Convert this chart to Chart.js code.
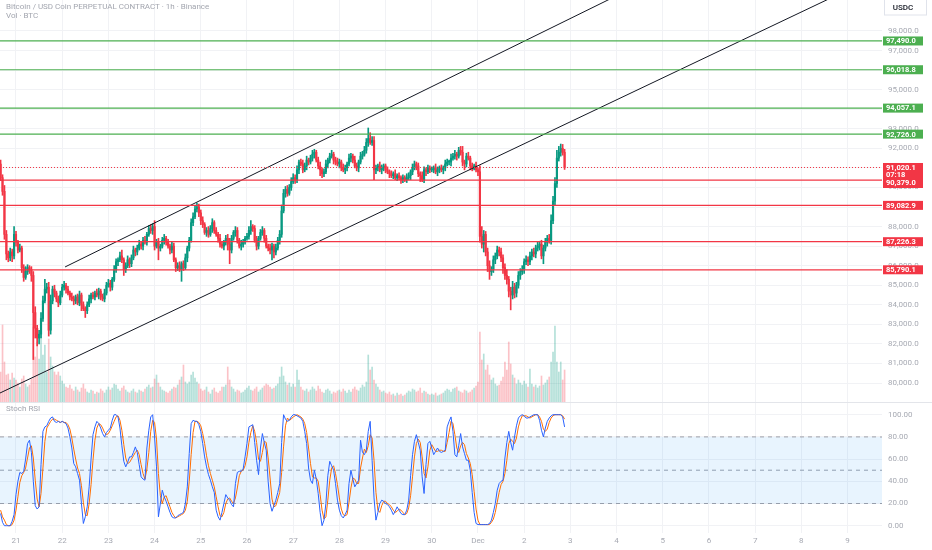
<!DOCTYPE html>
<html>
<head>
<meta charset="utf-8">
<title>BTCUSDC 1h</title>
<script src="https://cdn.jsdelivr.net/npm/chart.js@4/dist/chart.umd.min.js"></script>
<style>
html, body { margin: 0; padding: 0; background: #fff; overflow: hidden; }
#wrap { position: relative; width: 932px; height: 550px; font-family: Roboto, "Noto Sans", sans-serif; }
.pane { position: absolute; left: 0; width: 932px; }
#pricePane { top: 0; height: 403px; }
#stochPane { top: 403px; height: 147px; }
.legend { position: absolute; left: 6px; font-size: 8px; line-height: 8px; color: #a3a6af; white-space: nowrap; }
</style>
</head>
<body>
<div id="wrap">
  <div class="pane" id="pricePane"><canvas id="price"></canvas></div>
  <div class="pane" id="stochPane"><canvas id="stoch"></canvas></div>
  <div class="legend" style="top:3px">Bitcoin / USD Coin PERPETUAL CONTRACT · 1h · Binance</div>
  <div class="legend" style="top:12px">Vol · BTC</div>
  <div class="legend" style="top:405px">Stoch RSI</div>
</div>
<script>
/*jshint esversion: 6 */
"use strict";

// hour index 0 = 21 Nov 00:00, the first candle is 20 Nov 16:00
const firstHour = -8;
const firstOpen = 91200;

const closes = [
    90500, 89800, 87600, 86600, 86400, 86700, 86500, 87600,
    // 21
    87200, 86800, 86900, 85900, 85400, 85700, 85900, 85800, 85500, 83600, 82800, 82300,
    82500, 83300, 84200, 84800, 84900, 82700, 84200, 84800, 84600, 84300, 84100, 84500,
    // 22
    84900, 85000, 84800, 84600, 84400, 84300, 84200, 84400, 84100, 84500, 84000, 83800,
    83700, 84000, 84300, 84500, 84400, 84600, 84500, 84700, 84400, 84300, 84600, 85000,
    // 23
    85100, 84900, 85300, 85800, 86200, 86300, 86500, 86300, 85800, 86000, 86300, 86100,
    86400, 86800, 86700, 86900, 87100, 87000, 87300, 87200, 87600, 87900, 87800, 88000,
    // 24
    87000, 87200, 86900, 87000, 87300, 87400, 87200, 87000, 86800, 87000, 86300, 85900,
    86000, 85800, 86100, 85900, 86400, 86900, 87300, 88200, 88500, 88900, 89000, 88700,
    // 25
    88300, 88100, 87700, 87800, 87600, 87900, 88200, 87800, 87600, 87400, 87100, 87000,
    87200, 87400, 87100, 86800, 87400, 87700, 87800, 87300, 87000, 87100, 87200, 87400,
    // 26
    87500, 87800, 88000, 87900, 87300, 87000, 87400, 87700, 87800, 87400, 87000, 86900,
    86800, 87000, 86700, 86900, 87300, 87600, 88800, 89700, 89900, 89700, 90000, 90300,
    // 27
    90500, 90400, 90900, 91300, 91200, 90900, 91100, 91400, 91300, 91500, 91700, 91800,
    91400, 91100, 90900, 90700, 90800, 91200, 91400, 91600, 91700, 91400, 91300, 91200,
    // 28
    91300, 91000, 90900, 91000, 91200, 91500, 91600, 91400, 91100, 91000, 91300, 91600,
    91700, 91900, 92300, 92500, 92300, 92400, 90900, 91000, 91100, 90900, 91000, 91100,
    // 29
    90900, 90800, 90700, 90600, 90700, 90500, 90600, 90500, 90400, 90500, 90400, 90500,
    90600, 90800, 91000, 91200, 91100, 90700, 90600, 90400, 90900, 90800, 91000, 90900,
    // 30
    90900, 91000, 90800, 90900, 91000, 90900, 91000, 91200, 91300, 91300, 91500, 91600,
    91700, 91600, 91900, 91800, 91300, 91200, 91600, 91500, 91100, 91000, 91100, 90900,
    // Dec 1
    90800, 87500, 87100, 87600, 86700, 86000, 85700, 85800, 86300, 86500, 86800, 86700,
    86400, 85900, 85500, 85300, 84700, 84500, 84900, 84600, 85000, 85500, 85700, 85800,
    // Dec 2
    86200, 86300, 86200, 86500, 86700, 86600, 86900, 87000, 87100, 86500, 86900, 87200,
    87400, 87300, 88300, 89300, 90200, 91500, 91800, 92000, 91800, 91020.1
];

const upperWick = [
    200, 150, 300, 200, 150, 200, 150, 400,
    150, 100, 200, 100, 150, 250, 150, 100, 150, 200, 300, 150, 200, 300, 250, 500, 200, 250, 300, 150, 200, 100, 150, 200,
    150, 200, 100, 150, 100, 200, 150, 100, 150, 200, 100, 150, 100, 150, 200, 100, 150, 100, 200, 150, 100, 150, 200, 150,
    200, 150, 100, 200, 150, 100, 200, 300, 100, 150, 200, 100, 150, 200, 100, 150, 200, 100, 150, 200, 100, 150, 200, 150,
    300, 150, 200, 100, 150, 200, 100, 150, 100, 200, 150, 100, 150, 200, 100, 150, 200, 100, 150, 200, 200, 150, 200, 150,
    150, 200, 100, 150, 200, 150, 200, 100, 150, 100, 200, 150, 100, 150, 200, 300, 150, 100, 200, 150, 100, 200, 150, 100,
    150, 200, 300, 100, 150, 200, 100, 150, 200, 100, 150, 100, 200, 150, 100, 200, 150, 200, 300, 200, 150, 200, 150, 200,
    200, 150, 200, 100, 150, 200, 150, 200, 100, 150, 200, 150, 100, 150, 200, 100, 150, 200, 100, 150, 200, 100, 150, 200,
    150, 100, 200, 150, 100, 200, 150, 100, 200, 150, 100, 200, 150, 200, 200, 540, 300, 200, 200, 150, 100, 200, 150, 100,
    100, 150, 100, 150, 100, 200, 100, 150, 100, 150, 100, 200, 150, 100, 200, 150, 100, 150, 100, 200, 150, 100, 150, 100,
    150, 100, 200, 150, 100, 150, 100, 200, 150, 100, 200, 150, 200, 100, 150, 200, 300, 100, 150, 200, 100, 150, 100, 200,
    100, 300, 500, 200, 150, 200, 250, 150, 200, 150, 200, 150, 200, 150, 200, 300, 150, 200, 300, 200, 150, 200, 150, 200,
    150, 200, 150, 200, 150, 200, 150, 200, 150, 200, 150, 200, 150, 200, 300, 250, 300, 400, 300, 220, 200, 150
];

const lowerWick = [
    150, 200, 250, 300, 200, 150, 300, 150,
    200, 150, 100, 250, 200, 100, 150, 200, 300, 2400, 500, 400, 300, 200, 150, 100, 200, 300, 200, 150, 200, 150, 200, 100,
    100, 150, 200, 100, 150, 100, 200, 150, 100, 150, 300, 100, 350, 150, 100, 200, 100, 150, 100, 200, 150, 100, 150, 100,
    100, 200, 150, 100, 150, 200, 100, 150, 300, 150, 100, 200, 150, 100, 200, 150, 100, 150, 200, 100, 150, 100, 150, 200,
    200, 100, 600, 150, 100, 200, 150, 100, 200, 150, 100, 200, 150, 100, 600, 150, 100, 200, 150, 100, 150, 100, 150, 200,
    200, 150, 100, 200, 150, 100, 200, 150, 100, 200, 150, 100, 200, 150, 300, 700, 150, 100, 200, 150, 100, 200, 150, 100,
    100, 150, 200, 150, 100, 200, 150, 100, 150, 200, 100, 150, 200, 500, 300, 150, 100, 200, 150, 100, 200, 150, 100, 150,
    100, 200, 150, 200, 100, 150, 100, 200, 150, 100, 150, 200, 100, 150, 300, 200, 150, 100, 200, 150, 100, 200, 150, 100,
    200, 150, 100, 200, 150, 100, 200, 150, 100, 150, 200, 100, 150, 100, 150, 200, 100, 150, 500, 200, 150, 100, 200, 150,
    150, 100, 200, 100, 150, 100, 150, 100, 200, 150, 100, 150, 100, 200, 150, 100, 200, 150, 300, 100, 150, 200, 100, 150,
    100, 150, 100, 200, 150, 100, 200, 150, 100, 150, 200, 100, 150, 200, 100, 150, 200, 300, 150, 100, 200, 150, 100, 100,
    200, 300, 200, 400, 200, 300, 400, 200, 150, 200, 150, 200, 200, 300, 200, 250, 300, 760, 200, 250, 200, 150, 200, 150,
    200, 150, 200, 150, 200, 150, 200, 150, 200, 150, 400, 150, 200, 150, 200, 150, 200, 200, 150, 200, 150, 100
];

// BTC per hour
const volumes = [
    6000, 15400, 8000, 5400, 5600, 4400, 5800, 4800,
    4400, 3800, 3000, 4600, 5200, 3600, 3000, 3400, 4600, 15000, 9000, 12000, 8600, 14000, 9400, 11400, 6000, 12600, 9000, 7200, 6000, 5400, 6000, 5200,
    4200, 3600, 3000, 2800, 3400, 2600, 2200, 3000, 2400, 2000, 2800, 3600, 2600, 2000, 1800, 2400, 2200, 1600, 2000, 1800, 2600, 2200, 1800, 2400,
    3000, 2400, 2800, 3600, 3400, 2600, 2200, 2800, 3200, 2400, 2000, 1800, 2200, 2600, 2000, 1800, 2400, 2200, 2000, 2600, 3000, 3400, 2800, 3000,
    4600, 5400, 3800, 3000, 2400, 2200, 2000, 1800, 2200, 2600, 3000, 2800, 3400, 4400, 5000, 7400, 4000, 3600, 4000, 5400, 6000, 4800, 4000, 3600,
    2600, 2200, 2400, 3000, 2000, 1600, 2400, 2800, 2000, 1800, 2200, 3000, 3000, 3400, 7000, 4400, 3000, 2600, 2000, 2400, 2200, 1800, 2000, 2400,
    2800, 3200, 2400, 2200, 2600, 3000, 2000, 2400, 2800, 3200, 3600, 3400, 3000, 2600, 2800, 3200, 3600, 5000, 7000, 5200, 4000, 3400, 3800, 3000,
    3600, 3000, 6400, 4400, 3000, 2400, 2200, 2600, 2000, 2400, 3000, 2600, 2200, 3200, 2600, 2000, 1800, 2400, 2600, 2200, 1600, 2000, 1800, 2200,
    2400, 2000, 2600, 2200, 1800, 2400, 2000, 2600, 3000, 2400, 2200, 2800, 3400, 3000, 4000, 9400, 6400, 7000, 4400, 3600, 3000, 2400, 2000, 2200,
    1800, 1600, 2000, 1400, 1600, 1200, 1800, 1400, 1600, 1200, 1400, 1800, 2200, 2000, 2600, 2400, 2000, 2200, 2800, 1800, 2200, 2000, 1600, 1400,
    1600, 1400, 1800, 1200, 1400, 1600, 1800, 2200, 2600, 2400, 2000, 2600, 2800, 3000, 2200, 2000, 1800, 2400, 2200, 1800, 2000, 2400, 2800, 3200,
    4000, 14000, 8400, 9600, 6400, 7400, 5400, 4400, 4800, 3600, 3200, 3400, 4200, 5000, 8000, 6400, 12000, 7600, 5400, 4800, 3600, 4400, 3800, 3400,
    4200, 3600, 3000, 6600, 3600, 3000, 3400, 2800, 3200, 5200, 3400, 3800, 4400, 5000, 8000, 10000, 15200, 8000, 6000, 8000, 4400, 6400
];

const stochK = [
    11, 3, 0, 0, 0, 0, 4, 10,
    28, 40, 48, 47, 49, 60, 74, 77, 66, 40, 18, 15, 17, 55, 85, 89, 90, 94, 97, 98, 94, 93, 94, 93,
    94, 93, 92, 88, 80, 70, 56, 53, 47, 41, 20, 2, 8, 17, 35, 60, 82, 89, 94, 92, 88, 83, 80, 84,
    86, 88, 95, 100, 100, 98, 88, 72, 58, 53, 57, 62, 62, 66, 71, 66, 55, 44, 42, 41, 70, 86, 98, 100,
    80, 53, 8, 20, 32, 26, 22, 17, 12, 8, 7, 7, 9, 10, 11, 12, 20, 35, 65, 92, 95, 94, 94, 91,
    85, 74, 62, 53, 46, 41, 35, 30, 14, 8, 5, 12, 20, 28, 25, 23, 19, 17, 38, 48, 49, 49, 51, 62,
    74, 89, 90, 91, 75, 59, 46, 70, 83, 75, 68, 40, 20, 13, 18, 23, 30, 38, 75, 100, 96, 94, 95, 98,
    100, 100, 99, 98, 97, 94, 85, 74, 52, 41, 38, 50, 42, 29, 12, 0, 5, 20, 45, 58, 54, 50, 38, 23,
    14, 9, 7, 10, 14, 38, 50, 42, 35, 38, 41, 77, 66, 64, 68, 85, 94, 59, 25, 5, 12, 20, 23, 22,
    20, 19, 17, 14, 10, 13, 17, 14, 11, 10, 10, 14, 23, 45, 64, 76, 82, 75, 68, 44, 29, 55, 74, 76,
    70, 64, 67, 70, 67, 66, 67, 68, 89, 94, 98, 85, 64, 62, 72, 83, 71, 65, 59, 59, 50, 30, 12, 2,
    1, 1, 1, 1, 1, 1, 2, 5, 12, 20, 32, 38, 40, 41, 61, 75, 85, 75, 68, 80, 90, 97, 99, 100,
    99, 97, 97, 98, 99, 100, 100, 100, 95, 86, 80, 88, 94, 97, 99, 100, 100, 100, 100, 100, 98, 89
];

const stochD = [
    14, 8, 5, 1, 0, 0, 1, 5,
    14, 26, 39, 45, 48, 52, 61, 70, 72, 61, 41, 24, 17, 29, 52, 76, 88, 91, 94, 96, 96, 95, 94, 93,
    94, 93, 93, 91, 87, 79, 69, 60, 52, 47, 36, 21, 10, 9, 20, 37, 59, 77, 88, 92, 91, 88, 84, 82,
    83, 86, 90, 94, 98, 99, 95, 86, 73, 61, 56, 57, 60, 63, 66, 68, 64, 55, 47, 42, 51, 66, 85, 95,
    93, 78, 47, 27, 20, 26, 27, 22, 17, 12, 9, 7, 8, 9, 10, 11, 14, 22, 40, 64, 84, 94, 94, 93,
    90, 83, 74, 63, 54, 47, 41, 35, 26, 17, 9, 8, 12, 20, 24, 25, 22, 20, 25, 34, 45, 49, 50, 54,
    62, 75, 84, 90, 85, 75, 60, 58, 66, 76, 75, 61, 43, 24, 17, 18, 24, 30, 48, 71, 90, 97, 95, 96,
    98, 99, 100, 99, 98, 96, 92, 84, 70, 56, 44, 43, 43, 40, 28, 14, 6, 8, 23, 41, 52, 54, 47, 37,
    25, 15, 10, 9, 10, 21, 34, 43, 42, 38, 38, 52, 61, 69, 66, 72, 82, 79, 59, 30, 14, 12, 18, 22,
    22, 20, 19, 17, 14, 12, 13, 15, 14, 12, 10, 11, 16, 27, 44, 62, 74, 78, 75, 62, 47, 43, 53, 68,
    73, 70, 67, 67, 68, 68, 67, 67, 75, 84, 94, 92, 82, 70, 66, 72, 75, 73, 65, 61, 56, 46, 31, 15,
    5, 1, 1, 1, 1, 1, 1, 3, 6, 12, 21, 30, 37, 40, 47, 59, 74, 78, 76, 74, 79, 89, 95, 99,
    99, 99, 98, 97, 98, 99, 100, 100, 98, 94, 87, 85, 87, 93, 97, 99, 100, 100, 100, 100, 99, 96
];

const dayTicks = [0, 24, 48, 72, 96, 120, 144, 168, 192, 216, 240, 264, 288, 312, 336, 360, 384, 408, 432];
const dayLabels = ["21", "22", "23", "24", "25", "26", "27", "28", "29", "30", "Dec", "2", "3", "4", "5", "6", "7", "8", "9"];
const priceTicks = [80000, 81000, 82000, 83000, 84000, 85000, 86000, 87000, 88000, 89000,
                    90000, 91000, 92000, 93000, 94000, 95000, 96000, 97000, 98000];
const stochTicks = [0, 20, 40, 60, 80, 100];
const stochBands = [80, 50, 20];

const greenLevels = [97490.0, 96018.8, 94057.1, 92726.0];
const redLevels = [90379.0, 89082.9, 87226.3, 85790.1];
const lastPrice = 91020.1;
const countdown = "07:18";
// channel drawn as [hour, price] anchor pairs
const channelUpper = [[25.5, 85935], [320, 100189]];
const channelLower = [[-8.3, 79490], [430, 100002]];

// view / look
const X_MIN = -8.31, X_MAX = 449.9;
const P_MIN = 79029, P_MAX = 99585;
const VOL_MAX = 80400;
const S_MIN = -6.58, S_MAX = 110.54;
const UP = "#089981", DOWN = "#f23645", LEVEL_GREEN = "#4caf50";
const GRID = "#f1f2f5", AXIS_TEXT = "#a7aab3";
const FONT = "Roboto, 'Noto Sans', sans-serif";
const LABEL_X = 888;

const candles = closes.map((c, k) => {
    const o = k === 0 ? firstOpen : closes[k - 1];
    return {
        x: firstHour + k, o: o, c: c,
        h: Math.max(o, c) + (upperWick[k] || 0),
        l: Math.min(o, c) - (lowerWick[k] || 0)
    };
});
const candleColors = candles.map(d => d.c >= d.o ? UP : DOWN);
const volColors = candles.map(d => d.c >= d.o ? "rgba(8,153,129,0.3)" : "rgba(242,54,69,0.3)");

const fmt = (v, digits) => v.toLocaleString("en-US", {minimumFractionDigits: digits, maximumFractionDigits: digits});

function flatLine(value, color, extra) {
    return Object.assign({
        type: "line",
        data: [{x: X_MIN, y: value}, {x: X_MAX, y: value}],
        borderColor: color, borderWidth: 1.2,
        pointRadius: 0, fill: false, order: 0
    }, extra || {});
}

function trendLine(points) {
    return {
        type: "line",
        data: points.map(p => ({x: p[0], y: p[1]})),
        borderColor: "#131722", borderWidth: 1,
        pointRadius: 0, fill: false, order: 0
    };
}

const dayGrid = {
    type: "linear", min: X_MIN, max: X_MAX, offset: false,
    afterBuildTicks: s => { s.ticks = dayTicks.map(v => ({value: v})); },
    ticks: {display: false},
    grid: {color: GRID, drawTicks: false, offset: false},
    border: {display: false}
};

const priceAxis = {
    id: "priceAxis",
    afterDraw(chart) {
        const ctx = chart.ctx, y = chart.scales.y, area = chart.chartArea;
        ctx.save();
        ctx.font = "8px " + FONT;
        ctx.textBaseline = "middle";
        ctx.textAlign = "left";
        ctx.fillStyle = AXIS_TEXT;
        priceTicks.forEach(v => ctx.fillText(fmt(v, 1), LABEL_X, y.getPixelForValue(v)));

        ctx.font = "bold 7.5px " + FONT;
        const box = (v, color) => {
            const py = y.getPixelForValue(v);
            ctx.fillStyle = color;
            ctx.fillRect(883, py - 4.5, 40, 9);
            ctx.fillStyle = "#fff";
            ctx.fillText(fmt(v, 1), 886, py + 0.5);
        };
        greenLevels.forEach(v => box(v, LEVEL_GREEN));
        redLevels.slice(1).forEach(v => box(v, DOWN));

        // last price, countdown and the 90,379.0 level share one tag
        const top = y.getPixelForValue(lastPrice) - 4.5;
        ctx.fillStyle = DOWN;
        ctx.fillRect(883, top, 40, 25);
        ctx.fillStyle = "#fff";
        ctx.fillText(fmt(lastPrice, 1), 886, top + 5);
        ctx.fillText(countdown, 886, top + 12.5);
        ctx.fillText(fmt(redLevels[0], 1), 886, top + 20.5);

        // currency tag
        ctx.strokeStyle = "#e0e3eb";
        ctx.lineWidth = 1;
        ctx.strokeRect(884.5, -1, 42, 16);
        ctx.fillStyle = "#131722";
        ctx.font = "500 8px " + FONT;
        ctx.textAlign = "center";
        ctx.fillText("USDC", 903, 8);

        // pane separator
        ctx.strokeStyle = "#e3e5ea";
        ctx.beginPath();
        ctx.moveTo(0, area.bottom + 0.5);
        ctx.lineTo(chart.width, area.bottom + 0.5);
        ctx.stroke();
        ctx.restore();
    }
};

const stochAxis = {
    id: "stochAxis",
    afterDraw(chart) {
        const ctx = chart.ctx, y = chart.scales.y, x = chart.scales.x;
        ctx.save();
        ctx.font = "8px " + FONT;
        ctx.fillStyle = AXIS_TEXT;
        ctx.textBaseline = "middle";
        ctx.textAlign = "left";
        stochTicks.forEach(v => ctx.fillText(fmt(v, 2), LABEL_X, y.getPixelForValue(v)));
        ctx.textAlign = "center";
        dayTicks.forEach((v, k) => ctx.fillText(dayLabels[k], x.getPixelForValue(v), 138));
        ctx.restore();
    }
};

new Chart(document.getElementById("price"), {
    type: "bar",
    data: {
        datasets: [
            ...greenLevels.map(v => flatLine(v, LEVEL_GREEN)),
            ...redLevels.map(v => flatLine(v, DOWN)),
            flatLine(lastPrice, DOWN, {borderWidth: 1, borderDash: [1, 2]}),
            trendLine(channelUpper),
            trendLine(channelLower),
            {
                type: "bar",
                data: candles.map(d => ({x: d.x, y: [Math.min(d.o, d.c), Math.max(d.o, d.c)]})),
                backgroundColor: candleColors,
                barThickness: 1.5, minBarLength: 1, grouped: false, order: 1
            },
            {
                type: "bar",
                data: candles.map(d => ({x: d.x, y: [d.l, d.h]})),
                backgroundColor: candleColors,
                barThickness: 1, grouped: false, order: 2
            },
            {
                type: "bar", yAxisID: "yv",
                data: candles.map((d, k) => ({x: d.x, y: volumes[k]})),
                backgroundColor: volColors,
                barThickness: 1, grouped: false, order: 10
            }
        ]
    },
    options: {
        responsive: true, maintainAspectRatio: false,
        animation: false, events: [],
        layout: {padding: {top: 0, left: 0, right: 50, bottom: 1}},
        plugins: {legend: {display: false}, tooltip: {enabled: false}},
        scales: {
            x: dayGrid,
            y: {
                position: "right", min: P_MIN, max: P_MAX,
                afterBuildTicks: s => { s.ticks = priceTicks.map(v => ({value: v})); },
                ticks: {display: false},
                grid: {color: GRID, drawTicks: false},
                border: {display: false}
            },
            yv: {display: false, min: 0, max: VOL_MAX}
        }
    },
    plugins: [priceAxis]
});

new Chart(document.getElementById("stoch"), {
    type: "line",
    data: {
        datasets: [
            ...stochBands.map((v, k) => ({
                data: [{x: X_MIN, y: v}, {x: X_MAX, y: v}],
                borderColor: "#9da0a9", borderWidth: 1, borderDash: [4, 4],
                pointRadius: 0, order: 5,
                fill: k === 0 ? {value: stochBands[2]} : false,
                backgroundColor: "rgba(33,150,243,0.1)"
            })),
            {
                data: stochK.map((v, k) => ({x: firstHour + k, y: v})),
                borderColor: "#2962ff", borderWidth: 1, pointRadius: 0, fill: false, order: 1
            },
            {
                data: stochD.map((v, k) => ({x: firstHour + k, y: v})),
                borderColor: "#ff6d00", borderWidth: 1, pointRadius: 0, fill: false, order: 2
            }
        ]
    },
    options: {
        responsive: true, maintainAspectRatio: false,
        animation: false, events: [],
        layout: {padding: {top: 0, left: 0, right: 50, bottom: 17}},
        plugins: {legend: {display: false}, tooltip: {enabled: false}},
        scales: {
            x: dayGrid,
            y: {
                position: "right", min: S_MIN, max: S_MAX,
                afterBuildTicks: s => { s.ticks = stochTicks.map(v => ({value: v})); },
                ticks: {display: false},
                grid: {color: GRID, drawTicks: false},
                border: {display: false}
            }
        }
    },
    plugins: [stochAxis]
});
</script>
</body>
</html>
